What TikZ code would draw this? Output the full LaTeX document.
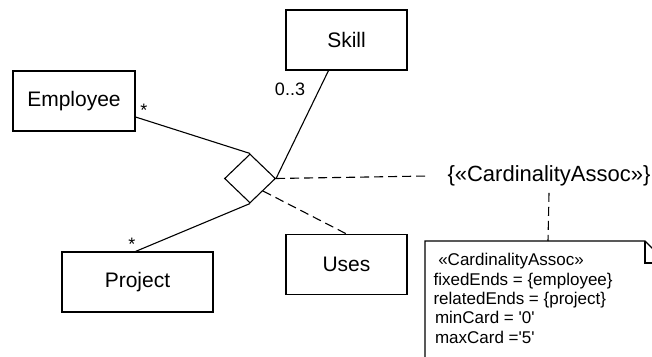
\documentclass[tikz,border=0pt]{standalone}
\usepackage{fontspec}
\setmainfont{Liberation Sans}
\usetikzlibrary{shapes.geometric}

\begin{document}
\begin{tikzpicture}[
        x=1pt, y=-1pt,
        line width=1.1pt,
        classbox/.style={rectangle, draw=black, minimum height=60pt, font=\fontsize{21}{25}\selectfont},
        assoc/.style={diamond, draw=black, minimum width=51pt, minimum height=49pt, inner sep=0pt},
        mult/.style={font=\fontsize{18}{22}\selectfont, inner sep=0pt},
        dashline/.style={dash pattern=on 9pt off 5pt},
        notetext/.style={font=\fontsize{17}{19.3}\selectfont, align=left, inner sep=0pt}
    ]
    \useasboundingbox (0,0) rectangle (652,356);
    \clip (0,0) rectangle (652,356);

    % Classes
    \node[classbox, minimum width=122pt] at (74,101) (employee) {Employee};
    \node[classbox, minimum width=121pt] at (346.5,40) (skill) {Skill};
    \node[classbox, minimum width=151pt] at (137.5,282) (project) {Project};
    \node[classbox, minimum width=121pt] at (346.5,264.5) (uses) {Uses};

    % N-ary association
    \node[assoc] at (250,178.5) (assoc) {};

    % Constraint and note
    \node[font=\fontsize{22}{26}\selectfont, inner xsep=19pt, inner ysep=6pt] at (549,176) (constraint) {\{«CardinalityAssoc»\}};
    \coordinate (notetop) at (548,241);
    \draw (425,241) -- (645,241) -- (667,263) -- (667,400) -- (425,400) -- cycle;
    \draw (645,241) -- (645,263) -- (667,263);
    \node[notetext, anchor=north west] at (433,253) (note) {\ «CardinalityAssoc»\\
        fixedEnds = \{employee\}\\
        relatedEnds = \{project\}\\
        \hspace{1.5pt}minCard = \textquotesingle 0\textquotesingle\\
        \hspace{1.5pt}maxCard =\textquotesingle 5\textquotesingle};

    % Lines
    \draw ([yshift=-16pt]employee.east) -- (assoc.north);
    \draw ([xshift=-18pt]skill.south) -- (assoc.east);
    \draw (assoc.south) -- ([xshift=-2pt]project.north);
    \draw[dashline] (assoc.south east) -- (uses.north);
    \draw[dashline] (assoc.east) -- (constraint.west);
    \draw[dashline] (constraint.south) -- (notetop);

    % Multiplicities
    \node[mult] at (144,110) (empmult) {*};
    \node[mult] at (132,244) (projmult) {*};
    \node[mult] at (290,89) (skillmult) {0..3};

\end{tikzpicture}
\end{document}
